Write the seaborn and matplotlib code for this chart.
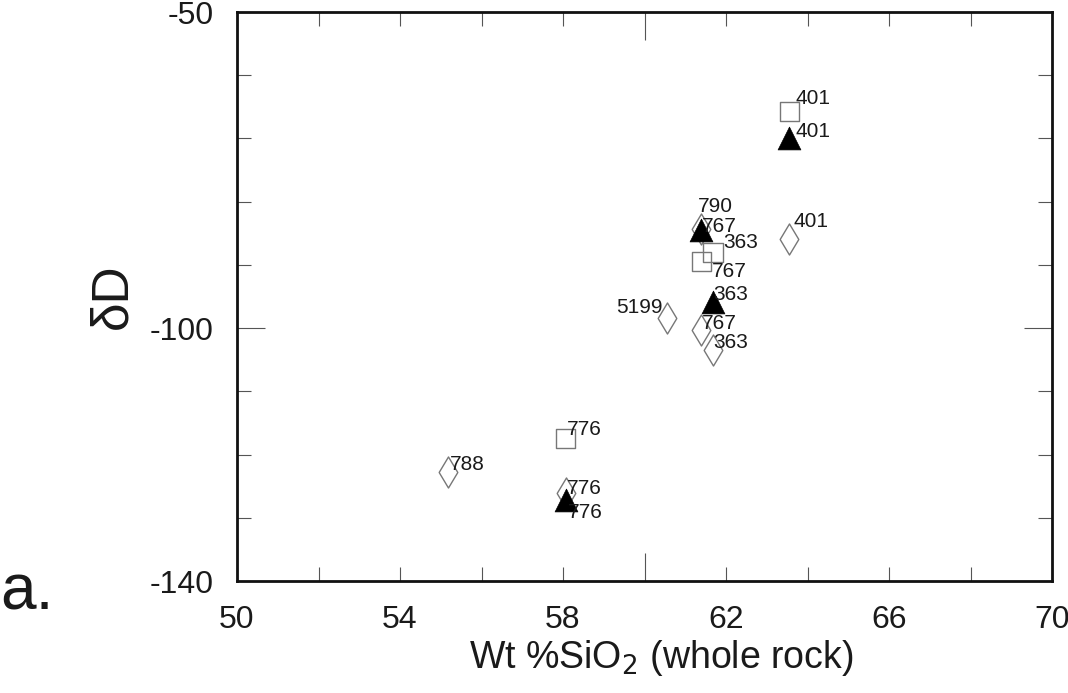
import matplotlib
matplotlib.use('Agg')
import matplotlib.pyplot as plt
import seaborn as sns
import pandas as pd

# open squares
sq_x = [63.55, 61.68, 61.39, 58.07]
sq_y = [-65.8, -88.0, -89.5, -117.5]
sq_lab = ['401', '363', '767', '776']

# filled triangles
tri_x = [63.55, 61.39, 61.68, 58.07]
tri_y = [-69.9, -84.5, -95.9, -127.2]
tri_lab = ['401', '790', '363', '776']

# open diamonds
dia_x = [63.55, 61.39, 60.55, 61.39, 61.68, 55.18, 58.07]
dia_y = [-85.9, -84.3, -98.4, -100.3, -103.5, -122.8, -126.1]
dia_lab = ['401', '767', '5199', '767', '363', '788', '776']

# label offsets in pixels (dx, dy of baseline, ha)
sq_off = [(6, 7.5, 'left'), (10, 4.5, 'left'), (11, -15.5, 'left'), (1, 3.5, 'left')]
tri_off = [(6, 0.5, 'left'), (-3, 18.5, 'left'), (0, 2.5, 'left'), (2, -17.5, 'left')]
dia_off = [(4, 11.5, 'left'), (1, -3.5, 'left'), (-4, 4.5, 'right'), (1, 1.5, 'left'),
           (0, 2.5, 'left'), (2, 2.5, 'left'), (1, -0.5, 'left')]

sns.set_style('white')
plt.rcParams['font.family'] = ['Liberation Sans', 'DejaVu Sans']

fig = plt.figure(figsize=(10.68, 6.93), dpi=100)
ax = fig.add_axes([237/1068, 1-581/693, (1052-237)/1068, (581-12)/693])

df_sq = pd.DataFrame({'x': sq_x, 'y': sq_y})
df_tri = pd.DataFrame({'x': tri_x, 'y': tri_y})
df_dia = pd.DataFrame({'x': dia_x, 'y': dia_y})

sns.scatterplot(data=df_dia, x='x', y='y', marker='d', s=250, facecolor='white', edgecolor='#777777', linewidth=1.0, ax=ax, zorder=3)
sns.scatterplot(data=df_sq, x='x', y='y', marker='s', s=190, facecolor='none', edgecolor='#777777', linewidth=1.0, ax=ax, zorder=4)
sns.scatterplot(data=df_tri, x='x', y='y', marker='^', s=270, facecolor='black', edgecolor='black', linewidth=0.5, ax=ax, zorder=5)

for xs, ys, labs, offs in [(sq_x, sq_y, sq_lab, sq_off), (tri_x, tri_y, tri_lab, tri_off), (dia_x, dia_y, dia_lab, dia_off)]:
    for x, y, l, (dx, dy, ha) in zip(xs, ys, labs, offs):
        ax.annotate(l, (x, y), xytext=(dx, dy), textcoords='offset pixels',
                    ha=ha, va='baseline', fontsize=15, color='#1a1a1a', zorder=6)

ax.set_xlim(50, 70)
ax.set_ylim(-140, -50)
xt = list(range(50, 71, 2))
yt = list(range(-140, -49, 10))
ax.set_xticks(xt)
ax.set_xticklabels([str(v) if (v - 50) % 4 == 0 else '' for v in xt])
ax.set_yticks(yt)
ax.set_yticklabels([str(v) if v in (-50, -100, -140) else '' for v in yt])
ax.tick_params(direction='in', length=10, width=0.8, color='#555555',
               bottom=True, left=True, top=True, right=True,
               labelsize=23, labelcolor='#1a1a1a', pad=17)
for t, v in zip(ax.xaxis.get_major_ticks(), xt):
    if v == 60:
        t.tick1line.set_markersize(20)
        t.tick2line.set_markersize(20)
for t, v in zip(ax.yaxis.get_major_ticks(), yt):
    if v == -100:
        t.tick1line.set_markersize(20)
        t.tick2line.set_markersize(20)
for sp in ax.spines.values():
    sp.set_linewidth(2)
    sp.set_color('#111111')

ax.set_xlabel('Wt %SiO$_2$ (whole rock)', fontsize=27, color='#1a1a1a')
ax.xaxis.set_label_coords(0.521, -0.1)
ax.set_ylabel('δD', fontsize=37, color='#1a1a1a')
ax.yaxis.set_label_coords(-0.122, 0.5)
fig.text(0.0, 1-610/693, 'a.', fontsize=46, color='#1a1a1a', va='baseline')

fig.savefig('out.png', dpi=100)
